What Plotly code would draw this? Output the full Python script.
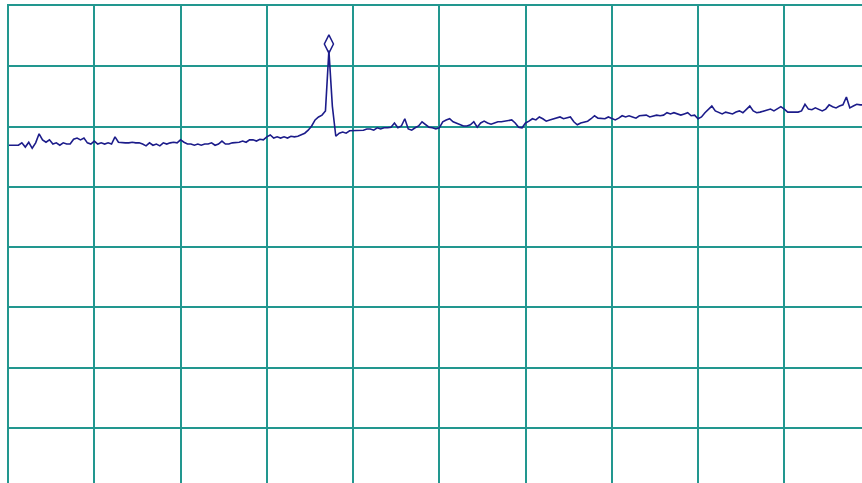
import numpy as np
import plotly.graph_objects as go

# Sweep: 0 .. 1000 MHz, 100 MHz/div, 251 points
freq_mhz = np.linspace(0, 1000, 251)

# Trace levels in dBm (ref level 0 dBm, 10 dB/div), one row per division
level_dbm = [
    # 0 - 100 MHz
    -23.1, -23.1, -23.1, -23.1, -22.7, -23.4, -22.6, -23.6, -22.7, -21.2, -22.2, -22.6, -22.2,
    -22.9, -22.7, -23.1, -22.7, -22.9, -22.9, -22.1, -21.9, -22.2, -21.9, -22.7, -22.9,
    # 100 - 200 MHz
    -22.4, -22.9, -22.7, -22.9, -22.7, -22.9, -21.7, -22.6, -22.7, -22.7, -22.7, -22.6, -22.7,
    -22.7, -22.9, -23.2, -22.7, -23.1, -22.9, -23.2, -22.7, -22.9, -22.7, -22.6, -22.7,
    # 200 - 300 MHz
    -22.2, -22.6, -22.9, -22.9, -23.1, -22.9, -23.1, -22.9, -22.9, -22.7, -23.1, -22.9, -22.4,
    -22.9, -22.9, -22.7, -22.7, -22.6, -22.4, -22.6, -22.2, -22.2, -22.4, -22.1, -22.2,
    # 300 - 400 MHz (carrier at 372 MHz)
    -21.7, -21.4, -21.9, -21.7, -21.9, -21.7, -21.9, -21.6, -21.7, -21.6, -21.4, -21.1, -20.6,
    -19.9, -18.9, -18.4, -18.1, -17.4, -7.4, -16.6, -21.6, -21.1, -20.9, -21.1, -20.7,
    # 400 - 500 MHz
    -20.7, -20.6, -20.7, -20.6, -20.4, -20.4, -20.6, -20.2, -20.4, -20.2, -20.2, -20.1, -19.4,
    -20.2, -19.9, -18.7, -20.4, -20.6, -20.2, -19.9, -19.2, -19.7, -20.1, -20.2, -20.4,
    # 500 - 600 MHz
    -20.2, -19.2, -18.9, -18.7, -19.2, -19.4, -19.6, -19.9, -19.9, -19.7, -19.2, -20.1, -19.4,
    -19.1, -19.4, -19.6, -19.4, -19.2, -19.2, -19.1, -19.1, -18.9, -19.4, -20.1, -20.2,
    # 600 - 700 MHz
    -19.4, -19.1, -18.7, -18.9, -18.4, -18.7, -19.1, -18.9, -18.7, -18.6, -18.4, -18.7, -18.6,
    -18.4, -19.2, -19.7, -19.4, -19.2, -19.1, -18.7, -18.2, -18.6, -18.6, -18.7, -18.4,
    # 700 - 800 MHz
    -18.6, -18.9, -18.6, -18.2, -18.4, -18.2, -18.4, -18.6, -18.2, -18.1, -18.1, -18.4, -18.2,
    -18.1, -18.2, -18.1, -17.7, -17.9, -17.7, -17.9, -18.1, -17.9, -17.7, -18.2, -18.1,
    # 800 - 900 MHz
    -18.7, -18.4, -17.7, -17.1, -16.6, -17.4, -17.7, -17.9, -17.6, -17.7, -17.9, -17.6, -17.4,
    -17.7, -17.1, -16.6, -17.4, -17.7, -17.6, -17.4, -17.2, -17.1, -17.4, -17.1, -16.7,
    # 900 - 1000 MHz
    -17.1, -17.6, -17.6, -17.6, -17.6, -17.4, -16.3, -17.1, -17.2, -16.9, -17.2, -17.4, -17.1,
    -16.4, -16.7, -16.9, -16.6, -16.4, -15.1, -16.9, -16.6, -16.3, -16.4, -16.4, -16.4, -16.6,
]

# Peak marker (drawn just above the carrier peak)
marker_freq = [372]
marker_level = [-6.3]

TRACE = "#1c1c8a"
GRID = "#22978f"

fig = go.Figure()
fig.add_trace(go.Scatter(
    x=freq_mhz, y=level_dbm, mode="lines",
    line=dict(color=TRACE, width=1.6), hoverinfo="skip", showlegend=False,
))
fig.add_trace(go.Scatter(
    x=marker_freq, y=marker_level, mode="markers",
    marker=dict(symbol="diamond-tall-open", size=13, color=TRACE, line=dict(width=1.5, color=TRACE)),
    showlegend=False,
))

fig.update_layout(
    width=862, height=483,
    margin=dict(l=9, r=0, t=6, b=0),
    paper_bgcolor="#ffffff", plot_bgcolor="#ffffff",
)
# Display starts at the top-left corner of the graticule; the rest of the
# screen continues past the window edge.
fig.update_xaxes(
    range=[1.1, 990.1], tick0=0, dtick=100, side="top",
    showgrid=True, gridcolor=GRID, gridwidth=2,
    zeroline=False, showticklabels=False, ticks="",
    showline=True, linecolor=GRID, linewidth=2,
)
fig.update_yaxes(
    range=[-477 / 6.029, 0], tick0=0, dtick=10,
    showgrid=True, gridcolor=GRID, gridwidth=2,
    zeroline=False, showticklabels=False, ticks="",
    showline=True, linecolor=GRID, linewidth=2,
)

fig.write_html("out.html")
